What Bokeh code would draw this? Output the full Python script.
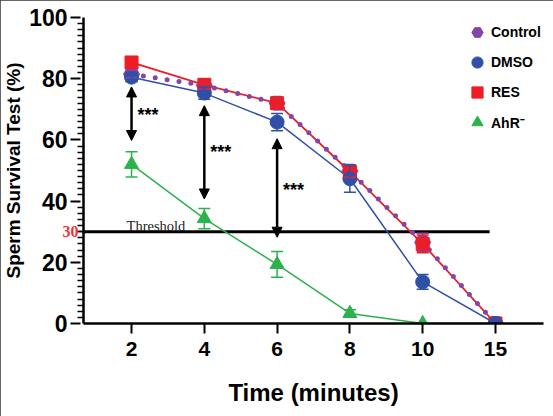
from bokeh.plotting import figure
from bokeh.models import (Range1d, FixedTicker, ColumnDataSource, LinearAxis,
                          Whisker, TeeHead, Arrow, NormalHead, Label, Legend, LegendItem)
from bokeh.embed import file_html
from bokeh.resources import INLINE

# ---------------- data ----------------
time_labels = ["2", "4", "6", "8", "10", "15"]
xpos = [0, 1, 2, 3, 4, 5]

control = [81.5, 77.8, 72.0, 49.8, 26.5, 0.0]
control_err = [1.2, 1.2, 1.5, 2.0, 3.0, 0.0]
dmso = [80.5, 75.3, 65.8, 47.3, 13.6, 0.0]
dmso_err = [1.5, 2.0, 2.8, 4.4, 2.4, 0.0]
res = [85.3, 78.0, 72.0, 49.6, 26.0, 0.0]
res_err = [1.2, 1.2, 1.5, 2.0, 2.9, 0.0]
ahr = [52.0, 34.3, 19.3, 3.3, 0.0, 0.0]
ahr_err = [4.1, 3.3, 4.2, 1.2, 0.0, 0.0]

y_major = [0, 20, 40, 60, 80, 100]
y_minor = [v for v in range(0, 101, 2) if v not in y_major]
threshold = 30
arrow_x = [0, 1, 2]
arrow_top = [77.3, 71.2, 60.4]
arrow_bottom = [59.8, 40.7, 28.2]
star_y = [68.3, 56.0, 43.7]

C_CTRL = "#8246A8"
C_DMSO = "#3050A8"
C_RES = "#EE1D25"
C_AHR = "#2BB24C"

p = figure(width=553, height=416, output_backend="svg", toolbar_location=None,
           x_range=Range1d(-0.66, 5.66), y_range=Range1d(0, 100), y_axis_location=None,
           min_border_left=83, min_border_right=10, min_border_top=17, min_border_bottom=93)
p.styles = {"outline": "2px solid #333333", "outline-offset": "-2px"}
p.outline_line_color = None
p.grid.visible = False
p.background_fill_color = "white"
p.border_fill_color = "white"

# x axis
xa = p.xaxis[0]
xa.ticker = FixedTicker(ticks=xpos)
xa.major_label_overrides = {i: t for i, t in zip(xpos, time_labels)}
xa.axis_label = "Time (minutes)"
xa.axis_label_text_font = "Liberation Sans"
xa.axis_label_text_font_style = "bold"
xa.axis_label_text_font_size = "24px"
xa.axis_label_text_color = "black"
xa.axis_label_standoff = 20
xa.major_label_text_font = "Liberation Sans"
xa.major_label_text_font_style = "bold"
xa.major_label_text_font_size = "21px"
xa.major_label_standoff = 8
xa.major_tick_out = 10
xa.major_tick_in = 0
xa.minor_tick_out = 0
xa.axis_line_width = 2.5
xa.major_tick_line_width = 2
xa.axis_line_color = "black"
xa.major_tick_line_color = "black"
xa.major_label_text_color = "black"

# inner y axis: axis line, minor ticks and the red threshold value
ya_in = LinearAxis(ticker=FixedTicker(ticks=[threshold], minor_ticks=y_minor))
ya_in.major_label_text_font = "Liberation Serif"
ya_in.major_label_text_font_style = "bold"
ya_in.major_label_text_font_size = "16px"
ya_in.major_label_text_color = "#EE3340"
ya_in.major_label_standoff = -1
ya_in.major_tick_out = 6
ya_in.major_tick_in = 0
ya_in.minor_tick_out = 6
ya_in.minor_tick_in = 0
ya_in.axis_line_width = 2.5
ya_in.major_tick_line_width = 1.5
ya_in.minor_tick_line_width = 1.5
ya_in.axis_line_color = "black"
ya_in.major_tick_line_color = "black"
ya_in.minor_tick_line_color = "black"
p.add_layout(ya_in, "left")

# outer y axis: numbers, long major ticks (reaching in to the frame) and title
ya = LinearAxis(ticker=FixedTicker(ticks=y_major, minor_ticks=[]))
ya.axis_label = "Sperm Survival Test (%)"
ya.axis_label_text_font = "Liberation Sans"
ya.axis_label_text_font_style = "bold"
ya.axis_label_text_font_size = "19px"
ya.axis_label_text_color = "black"
ya.axis_label_standoff = 2
ya.major_label_text_font = "Liberation Sans"
ya.major_label_text_font_style = "bold"
ya.major_label_text_font_size = "23px"
ya.major_label_text_color = "black"
ya.major_label_standoff = -8
ya.major_tick_out = -11
ya.major_tick_in = 21
ya.minor_tick_out = -11
ya.minor_tick_in = 0
ya.axis_line_color = None
ya.major_tick_line_color = "black"
ya.major_tick_line_width = 2
ya.minor_tick_line_color = None
p.add_layout(ya, "left")

# threshold
p.segment(x0=[-0.66], x1=[4.92], y0=[threshold], y1=[threshold], line_color="black", line_width=3)
p.add_layout(Label(x=0, y=threshold, x_offset=-5, y_offset=6, text="Threshold",
                   text_font="Liberation Serif", text_font_size="14.5px", text_color="#222222",
                   text_baseline="alphabetic", text_align="left"))

def err_src(vals, errs):
    xs = [x for x, e in zip(xpos, errs) if e > 0]
    vs = [v for v, e in zip(vals, errs) if e > 0]
    es = [e for e in errs if e > 0]
    return ColumnDataSource(dict(x=xs, lo=[v - e for v, e in zip(vs, es)], hi=[v + e for v, e in zip(vs, es)]))

def add_whisker(vals, errs, color):
    w = Whisker(source=err_src(vals, errs), base="x", lower="lo", upper="hi",
                line_color=color, line_width=1.5, level="glyph",
                upper_head=TeeHead(size=12, line_color=color, line_width=1.5),
                lower_head=TeeHead(size=12, line_color=color, line_width=1.5))
    p.add_layout(w)

# lines
g_line = p.line(xpos, ahr, line_color=C_AHR, line_width=1.5)
add_whisker(ahr, ahr_err, C_AHR)
g_mark = p.scatter(xpos[:5], ahr[:5], marker="triangle", size=14, fill_color=C_AHR, line_color=C_AHR)
r_line = p.line(xpos, res, line_color=C_RES, line_width=1.8)
c_line = p.line(xpos, control, line_color=C_CTRL, line_width=5, line_dash="0 12", line_cap="round")
d_line = p.line(xpos, dmso, line_color=C_DMSO, line_width=1.5)
add_whisker(control, control_err, C_CTRL)
add_whisker(res, res_err, C_RES)
add_whisker(dmso, dmso_err, C_DMSO)
c_mark = p.scatter(xpos, control, marker="hex", size=16, fill_color=C_CTRL, line_color=C_CTRL)
r_mark = p.scatter(xpos, res, marker="square", size=13, fill_color=C_RES, line_color=C_RES)
d_mark = p.scatter(xpos, dmso, marker="circle", size=14, fill_color=C_DMSO, line_color=C_DMSO)

# significance arrows
for xa_, top, bot, sy in zip(arrow_x, arrow_top, arrow_bottom, star_y):
    p.add_layout(Arrow(x_start=xa_, y_start=top, x_end=xa_, y_end=bot, line_width=2.5, line_color="black",
                       start=NormalHead(size=10, fill_color="black", line_color="black"),
                       end=NormalHead(size=10, fill_color="black", line_color="black")))
    p.add_layout(Label(x=xa_, y=sy, x_offset=6, text="***", text_font="Liberation Sans",
                       text_font_style="bold", text_font_size="18px", text_color="black",
                       text_baseline="middle", text_align="left"))

legend = Legend(items=[LegendItem(label="Control", renderers=[c_mark]),
                       LegendItem(label="DMSO", renderers=[d_mark]),
                       LegendItem(label="RES", renderers=[r_mark]),
                       LegendItem(label="AhR\u207b", renderers=[g_mark])],
                location=(380, 186), glyph_width=28, glyph_height=30, label_standoff=0,
                spacing=-2, padding=0, margin=0, border_line_color=None,
                background_fill_alpha=0, label_text_font="Liberation Sans",
                label_text_color="black",
                label_text_font_style="bold", label_text_font_size="14px")
p.add_layout(legend)

open("out.html", "w").write(file_html(p, INLINE))
